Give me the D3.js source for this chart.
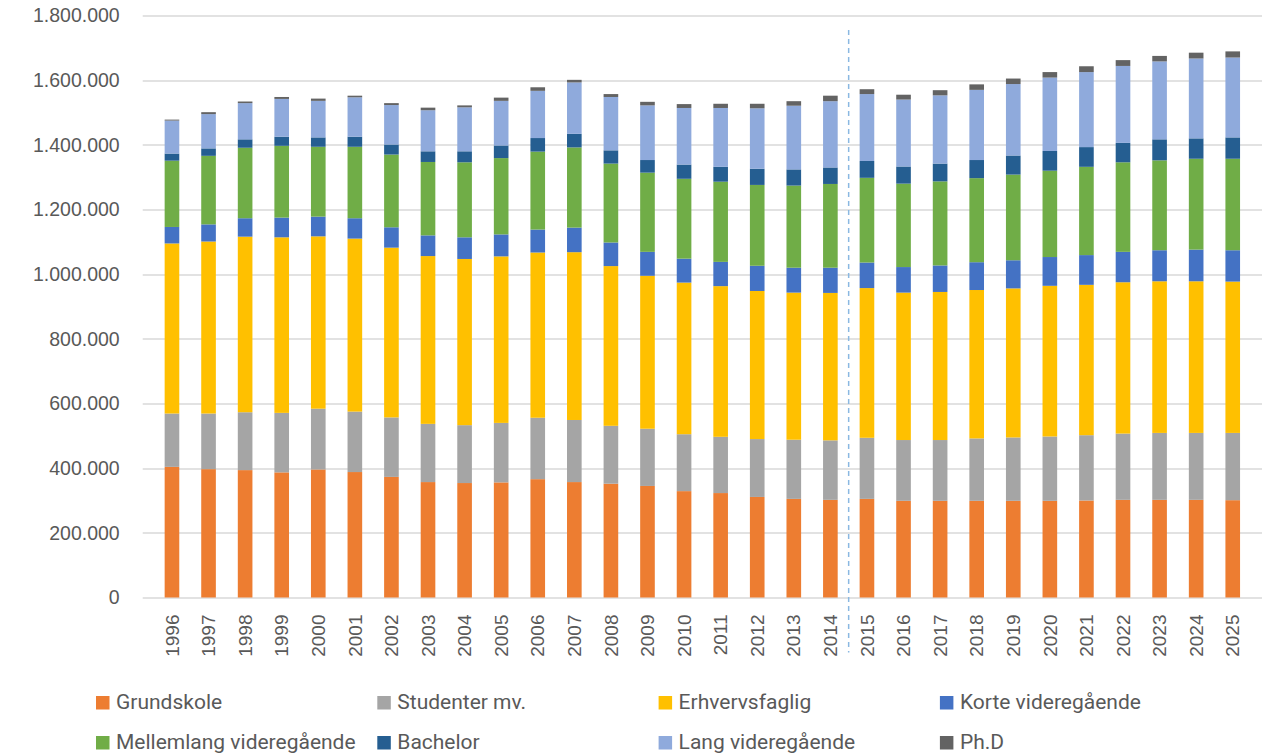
<!DOCTYPE html>
<html>
<head>
<meta charset="utf-8">
<script src="https://cdn.jsdelivr.net/npm/d3@7"></script>
<style>
  body { margin: 0; background: #fff; }
  svg { display: block; }
</style>
</head>
<body>
<script>
// Years (categories)
const years = d3.range(1996, 2026).map(String);

// Series values, in thousands of persons
const grundskole = [404, 397, 394, 387, 396, 388, 373, 357, 354, 356, 366, 357, 352, 345, 329, 323, 311, 305, 302, 305, 299, 299, 299, 299, 299, 300, 302, 302, 302, 301];
const studenter = [165, 172, 179, 184, 188, 187, 184, 180, 179, 184, 190, 192, 179, 177, 176, 174, 179, 183, 184, 189, 188, 188, 193, 196, 199, 202, 205, 207, 207, 208];
const erhvervsfaglig = [526, 532, 543, 543, 533, 535, 525, 519, 514, 515, 511, 519, 494, 473, 469, 466, 458, 455, 456, 463, 456, 458, 459, 461, 466, 465, 468, 469, 469, 468];
const korte = [51, 53, 57, 61, 61, 63, 63, 64, 67, 68, 71, 76, 73, 74, 74, 75, 78, 77, 78, 79, 79, 82, 86, 87, 89, 92, 94, 96, 98, 97];
const mellemlang = [205, 212, 218, 222, 216, 221, 225, 227, 232, 236, 241, 248, 244, 245, 247, 248, 250, 254, 259, 262, 258, 260, 260, 265, 267, 273, 277, 278, 281, 283];
const bachelor = [22, 23, 26, 28, 29, 31, 31, 33, 34, 39, 42, 42, 41, 39, 44, 46, 50, 50, 51, 52, 53, 55, 56, 59, 61, 61, 60, 65, 63, 66];
const lang = [102, 106, 112, 117, 113, 122, 122, 127, 136, 138, 146, 159, 165, 169, 175, 182, 187, 197, 205, 207, 207, 211, 217, 221, 227, 232, 238, 241, 247, 247];
const phd = [3, 6, 5, 6, 7, 5, 6, 8, 6, 10, 11, 8, 9, 11, 12, 13, 14, 14, 17, 15, 15, 16, 17, 17, 17, 18, 18, 17, 18, 19];

const seriesNames = ['Grundskole', 'Studenter mv.', 'Erhvervsfaglig', 'Korte videregående',
  'Mellemlang videregående', 'Bachelor', 'Lang videregående', 'Ph.D'];
const seriesValues = [grundskole, studenter, erhvervsfaglig, korte, mellemlang, bachelor, lang, phd];
const colors = ['#ED7D31', '#A5A5A5', '#FFC000', '#4472C4', '#70AD47', '#255E91', '#8FAADC', '#636363'];

// Y axis ticks
const yTicks = d3.range(0, 1800001, 200000);

// Year after which the projection starts
const splitYear = '2014';

// Build rows for the stack
const rows = years.map((y, i) => {
  const row = { year: y };
  seriesNames.forEach((s, j) => { row[s] = seriesValues[j][i] * 1000; });
  return row;
});

const W = 1263, H = 755;
const margin = { top: 15.5, right: 1, bottom: 157.5, left: 142.7 };
const width = W - margin.left - margin.right;
const height = H - margin.top - margin.bottom;

const svg = d3.select('body').append('svg')
  .attr('width', W)
  .attr('height', H);

const g = svg.append('g')
  .attr('transform', `translate(${margin.left},${margin.top})`);

const x = d3.scaleBand()
  .domain(years)
  .range([0, width])
  .padding(0.6);

const y = d3.scaleLinear()
  .domain([0, 1800000])
  .range([height, 0]);

const color = d3.scaleOrdinal().domain(seriesNames).range(colors);

const locale = d3.formatLocale({ decimal: ',', thousands: '.', grouping: [3], currency: ['', ' kr'] });
const fmt = locale.format(',');

// Gridlines
g.append('g')
  .selectAll('line')
  .data(yTicks)
  .enter().append('line')
  .attr('x1', 0)
  .attr('x2', width)
  .attr('y1', d => Math.round(y(d)) + 0.5)
  .attr('y2', d => Math.round(y(d)) + 0.5)
  .attr('stroke', '#D9D9D9')
  .attr('stroke-width', 1.3);

// Stacked bars
const stacked = d3.stack().keys(seriesNames)(rows);

g.append('g')
  .selectAll('g')
  .data(stacked)
  .enter().append('g')
  .attr('fill', d => color(d.key))
  .selectAll('rect')
  .data(d => d)
  .enter().append('rect')
  .attr('x', d => x(d.data.year))
  .attr('y', d => y(d[1]))
  .attr('height', d => y(d[0]) - y(d[1]))
  .attr('width', x.bandwidth());

// Y axis
const yAxis = g.append('g')
  .call(d3.axisLeft(y).tickValues(yTicks).tickFormat(fmt).tickSize(0).tickPadding(23));
yAxis.select('.domain').remove();
yAxis.selectAll('text')
  .style('font-family', '"Liberation Sans", Arial, sans-serif')
  .style('font-size', '19.5px')
  .attr('fill', '#595959');

// X axis
const xAxis = g.append('g')
  .attr('transform', `translate(0,${height})`)
  .call(d3.axisBottom(x).tickSize(0));
xAxis.select('.domain').remove();
xAxis.selectAll('text')
  .attr('transform', 'rotate(-90)')
  .attr('x', -17)
  .attr('y', 0)
  .attr('dy', '0.35em')
  .style('text-anchor', 'end')
  .style('font-family', '"Liberation Sans", Arial, sans-serif')
  .style('font-size', '19px')
  .attr('fill', '#595959');

// Dashed separator between historic data and projection
const splitX = (x(splitYear) + x.bandwidth() + x(String(+splitYear + 1))) / 2;
g.append('line')
  .attr('x1', splitX)
  .attr('x2', splitX)
  .attr('y1', 14.5)
  .attr('y2', 637)
  .attr('stroke', '#8AB8E2')
  .attr('stroke-width', 1.5)
  .attr('stroke-dasharray', '5,4');

// Legend
const legend = svg.append('g');
const item = legend.selectAll('g')
  .data(seriesNames)
  .enter().append('g')
  .attr('transform', (d, i) => `translate(${96 + (i % 4) * 281.3},${696 + Math.floor(i / 4) * 40})`);

item.append('rect')
  .attr('width', 13.5)
  .attr('height', 13.5)
  .attr('fill', d => color(d));

item.append('text')
  .attr('x', 20)
  .attr('y', 13)
  .style('font-family', 'Roboto, sans-serif')
  .style('font-size', '21px')
  .attr('fill', '#595959')
  .text(d => d);
</script>
</body>
</html>
